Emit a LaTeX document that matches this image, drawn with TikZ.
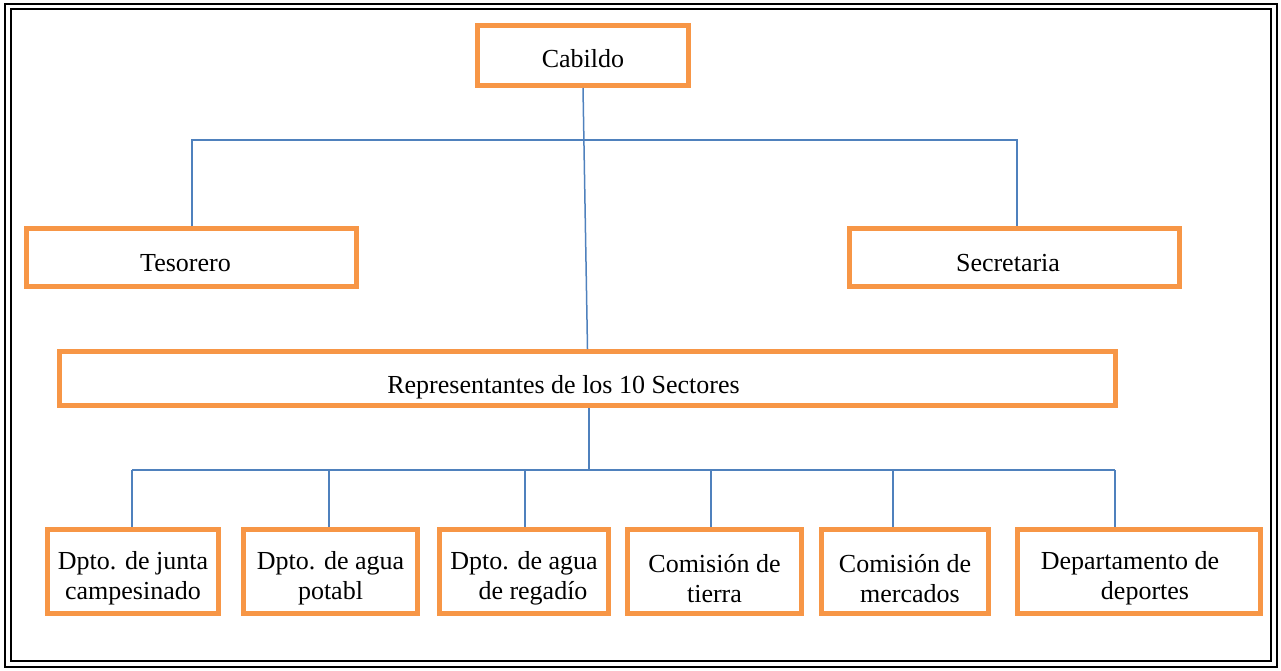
\documentclass[tikz,border=0pt]{standalone}
\usepackage{fontspec}
\setmainfont{Liberation Serif}
\definecolor{boxorange}{HTML}{F79646}
\definecolor{lineblue}{HTML}{4F81BD}
\newcommand{\deptstrut}{\rule{0pt}{16pt}}

\begin{document}
\begin{tikzpicture}[
		x=0.5pt, y=-0.5pt,
		every node/.style={rectangle,draw=boxorange,line width=2.5pt,inner sep=0pt,font=\fontsize{13}{15}\selectfont},
		textdrop/.style={execute at begin node={\rule{0pt}{#1}}},
		head/.style={minimum width=165pt,minimum height=29pt,textdrop=14pt},
		dept/.style={minimum height=42pt,align=center},
		link/.style={draw=lineblue,line width=0.75pt},
		frame/.style={draw=black,line width=0.8pt}
		]
		\useasboundingbox (0,0) rectangle (1281,670);
		\draw[frame] (5,4) rectangle (1277,667);
		\draw[frame] (11,9) rectangle (1271,661);
		
		\node[minimum width=105.5pt,minimum height=30pt,textdrop=12pt] (cabildo) at (583,55.5) {Cabildo};
		\node[head] (tesorero) at (191.5,257.5) {\hspace*{-6pt}Tesorero};
		\node[head] (secretaria) at (1014,257.5) {\hspace*{-6pt}Secretaria};
		\node[minimum width=528pt,minimum height=27pt,textdrop=18pt] (repr) at (587.5,378.5) {\hspace*{-24pt}Representantes de los 10 Sectores};
		
		\node[dept,minimum width=85.5pt] (d1) at (133,571.5) {\deptstrut Dpto. de junta\\campesinado};
		\node[dept,minimum width=87pt] (d2) at (330.5,571.5) {\deptstrut Dpto. de agua\\potabl};
		\node[dept,minimum width=84.5pt] (d3) at (524,571.5) {\deptstrut Dpto. de agua\\\hspace*{9pt}de regadío};
		\node[dept,minimum width=87pt] (d4) at (714.5,571.5) {\deptstrut Comisión de\\tierra};
		\node[dept,minimum width=83.5pt] (d5) at (905,571.5) {\deptstrut Comisión de\\\hspace*{5pt}mercados};
		\node[dept,minimum width=121.5pt] (d6) at (1139,571.5) {\deptstrut\hspace*{-9pt}Departamento de\\\hspace*{6pt}deportes};
		
		% upper level
		\coordinate (tl) at (192,140);
		\coordinate (tr) at (1017,140);
		\draw[link] (cabildo.south) -- (repr.north);
		\draw[link] (tesorero.north -| tl) -- (tl) -- (tr) -- (tr |- secretaria.north);
		
		% lower level
		\coordinate (busmid) at (589,470);
		\draw[link] (repr.south -| busmid) -- (busmid);
		\draw[link] (132,470) -- (1115,470);
		\foreach \n/\x in {d1/132,d2/329,d3/525,d4/711,d5/893,d6/1115}
			\draw[link] (\x,470) -- (\x,470 |- \n.north);
		\end{tikzpicture}
\end{document}
